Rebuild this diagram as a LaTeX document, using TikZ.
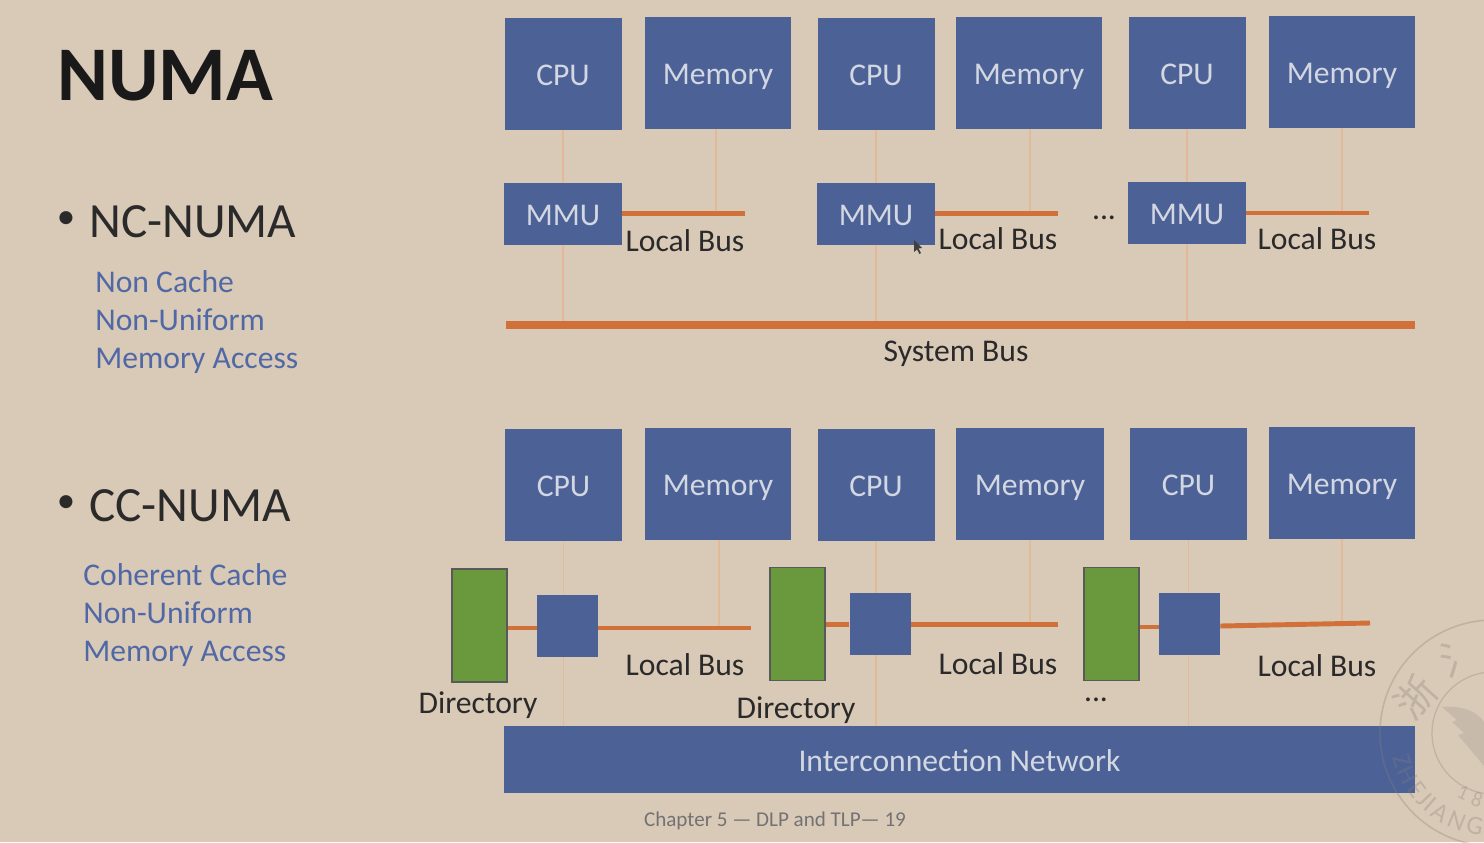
\documentclass[tikz,border=0pt]{standalone}
\usepackage{fontspec}
\setmainfont{Carlito}
\newfontfamily\sealfont{Noto Sans CJK SC}
\definecolor{slide}{HTML}{D9C9B7}
\definecolor{boxblue}{HTML}{4C6297}
\definecolor{boxtext}{HTML}{D3D7E2}
\definecolor{dirgreen}{HTML}{6A983C}
\definecolor{busorange}{HTML}{D2703A}
\definecolor{tapline}{HTML}{E2B999}
\definecolor{notetext}{HTML}{5069A6}
\definecolor{bodytext}{HTML}{2B2A2A}
\definecolor{sealgrey}{HTML}{857F78}
\tikzset{
  bluebox/.style={fill=boxblue,text=boxtext,inner sep=0pt,text height=16pt,text depth=2.4pt,font=\fontsize{18}{20}\selectfont},
  cpubox/.style={bluebox,minimum width=117\unit,minimum height=112\unit},
  membox/.style={bluebox,minimum width=146\unit,minimum height=112\unit},
  mmubox/.style={bluebox,minimum width=118\unit,minimum height=62\unit},
  hubbox/.style={fill=boxblue,inner sep=0pt,minimum width=61\unit,minimum height=62\unit},
  dirbox/.style={fill=dirgreen,draw=black!65,line width=.6pt,inner sep=0pt,minimum width=55\unit,minimum height=113\unit},
  lbus/.style={busorange,line width=2.8pt},
  sbus/.style={busorange,line width=4pt},
  tap/.style={tapline,line width=.7pt},
  caption/.style={text=bodytext,inner sep=0pt,text height=15.6pt,text depth=2.4pt,font=\fontsize{18}{20}\selectfont},
  note/.style={text=notetext,inner sep=0pt,anchor=west,text height=15.6pt,text depth=2.4pt,font=\fontsize{18}{20}\selectfont},
  heading/.style={text=bodytext,inner sep=0pt,anchor=west,font=\fontsize{28}{30}\selectfont},
  dotmark/.style={text=bodytext,inner sep=0pt,font=\fontsize{21}{24}\selectfont},
  sealmark/.style={sealgrey,opacity=.3,text opacity=.3}
}
\newcommand{\unit}{*.02cm}
\begin{document}
\begin{tikzpicture}[x=.02cm,y=-.02cm]
\fill[slide] (0,0) rectangle (1484,842);
\useasboundingbox (0,0) rectangle (1484,842);

\node[text=black!90,inner sep=0pt,anchor=west,font=\fontsize{44}{48}\selectfont\bfseries] (title) at (57,76) {NUMA};
\node[dotmark] (ncdot) at (66,220) {•};
\node[heading] (ncnuma) at (89,222) {NC-NUMA};
\node[note] (nca) at (95,281) {Non Cache};
\node[note] (ncb) at (95,319) {Non-Uniform};
\node[note] (ncc) at (95,357) {Memory Access};
\node[dotmark] (ccdot) at (66,504) {•};
\node[heading] (ccnuma) at (89,506) {CC-NUMA};
\node[note] (cca) at (83,574) {Coherent Cache};
\node[note] (ccb) at (83,612) {Non-Uniform};
\node[note] (ccc) at (83,650) {Memory Access};

\node[cpubox] (cpua) at (563,74) {CPU};
\node[membox] (mema) at (718,73) {Memory};
\node[cpubox] (cpub) at (876,74) {CPU};
\node[membox] (memb) at (1029,73) {Memory};
\node[cpubox] (cpuc) at (1187,73) {CPU};
\node[membox] (memc) at (1342,72) {Memory};
\node[mmubox] (mmua) at (563,214) {MMU};
\node[mmubox] (mmub) at (876,214) {MMU};
\node[mmubox] (mmuc) at (1187,213) {MMU};

\coordinate (lbusa) at (745,213.5);
\coordinate (lbusb) at (1058,213.5);
\coordinate (lbusc) at (1369,213);
\coordinate (sbusl) at (506,325);
\coordinate (sbusr) at (1415,325);

\draw[tap] (cpua) -- (mmua);
\draw[tap] (cpub) -- (mmub);
\draw[tap] (cpuc) -- (mmuc);
\draw[tap] ([xshift=-.04cm]mema.south) -- ([xshift=-.04cm]mema.south |- lbusa);
\draw[tap] ([xshift=.02cm]memb.south) -- ([xshift=.02cm]memb.south |- lbusb);
\draw[tap] (memc.south) -- (memc.south |- lbusc);
\draw[tap] (mmua.south) -- (mmua.south |- sbusl);
\draw[tap] (mmub.south) -- (mmub.south |- sbusl);
\draw[tap] (mmuc.south) -- (mmuc.south |- sbusl);
\draw[lbus] (mmua.east |- lbusa) -- (lbusa);
\draw[lbus] (mmub.east |- lbusb) -- (lbusb);
\draw[lbus] (mmuc.east |- lbusc) -- (lbusc);
\draw[sbus] (sbusl) -- (sbusr);

\node[caption] (lbla) at (685,239.5) {Local Bus};
\node[caption] (lblb) at (998,237.5) {Local Bus};
\node[caption] (lblc) at (1317,237.5) {Local Bus};
\node[caption] (dotsa) at (1104,208) {...};
\node[caption] (sbuslbl) at (956,350) {System Bus};
\fill[black!75] (914,240) -- (914,252) -- (917,249.5) -- (919.5,254) -- (921,253) -- (918.5,248.5) -- (922,248) -- cycle;

\node[cpubox] (cpud) at (563.5,484.5) {CPU};
\node[membox] (memd) at (718,483.5) {Memory};
\node[cpubox] (cpue) at (876,484.5) {CPU};
\node[membox,minimum width=148\unit] (meme) at (1030,483.5) {Memory};
\node[cpubox] (cpuf) at (1188.5,483.5) {CPU};
\node[membox] (memf) at (1342,483) {Memory};
\node[bluebox,minimum width=911\unit,minimum height=67\unit] (net) at (959.5,759.5) {Interconnection Network};

\draw[tap] (cpud.south) -- (cpud.south |- net.north);
\draw[tap] (cpue.south) -- (cpue.south |- net.north);
\draw[tap] (cpuf.south) -- (cpuf.south |- net.north);

\node[dirbox] (dira) at (479.5,625.5) {};
\node[dirbox] (dirb) at (797.5,624) {};
\node[dirbox] (dirc) at (1111.5,624) {};
\node[hubbox] (huba) at (567.5,626) {};
\node[hubbox] (hubb) at (880,624) {};
\node[hubbox] (hubc) at (1189.5,624) {};

\coordinate (lbusd) at (751,628);
\coordinate (lbuse) at (1058,624.5);
\coordinate (lbusf) at (1370,623);

\draw[tap] ([xshift=.02cm]memd.south) -- ([xshift=.02cm]memd.south |- lbusd);
\draw[tap] (meme.south) -- (meme.south |- lbuse);
\draw[tap] (memf.south) -- (memf.south |- lbusf);
\draw[lbus] (dira.east |- lbusd) -- (huba.west |- lbusd);
\draw[lbus] (dirb.east |- lbuse) -- (hubb.west |- lbuse);
\draw[lbus] ([yshift=-.06cm]dirc.east) -- ([yshift=-.06cm]hubc.west);
\draw[lbus] (huba.east |- lbusd) -- (lbusd);
\draw[lbus] (hubb.east |- lbuse) -- (lbuse);
\draw[lbus] ([yshift=-.04cm]hubc.east) -- (lbusf);

\node[caption] (dirlbla) at (478,701.5) {Directory};
\node[caption] (dirlblb) at (796,706.5) {Directory};
\node[caption] (lbld) at (685,663.5) {Local Bus};
\node[caption] (lble) at (998,662.5) {Local Bus};
\node[caption] (lblf) at (1317,664.5) {Local Bus};
\node[caption] (dotsb) at (1096,690) {...};
\node[text=black!55,inner sep=0pt,font=\fontsize{12}{14}\selectfont] (footer) at (775,821) {Chapter 5 — DLP and TLP— 19};

\draw[sealmark,line width=.9pt] (1493,733) circle (113);
\draw[sealmark,line width=.7pt] (1493,733) circle (61);
\node[sealmark,rotate=48,inner sep=0pt,font=\sealfont\fontsize{23}{25}\selectfont] (sealzhe) at (1416,697) {浙};
\node[sealmark,rotate=18,inner sep=0pt,font=\sealfont\fontsize{23}{25}\selectfont] (sealjiang) at (1460,657) {氵};
\fill[sealgrey,opacity=.2] (1442,707) .. controls (1462,705) and (1478,712) .. (1484,722) -- (1484,766) .. controls (1476,756) and (1466,745) .. (1458,735) -- (1464,733) -- (1452,722) -- (1457,720) -- cycle;
\foreach \ch/\ang in {Z/163,H/153.4,E/143.4,J/136,I/131,A/123.5,N/112.5,G/101}
  \node[sealmark,rotate=90-\ang,inner sep=0pt,font=\fontsize{15}{17}\selectfont] (seal\ch) at ({1493+95*cos(\ang)},{733+95*sin(\ang)}) {\ch};
\node[sealmark,rotate=-25,inner sep=0pt,font=\fontsize{12}{14}\selectfont] (sealyeara) at (1463,793) {1};
\node[sealmark,rotate=-20,inner sep=0pt,font=\fontsize{12}{14}\selectfont] (sealyearb) at (1477,800) {8};
\end{tikzpicture}
\end{document}
